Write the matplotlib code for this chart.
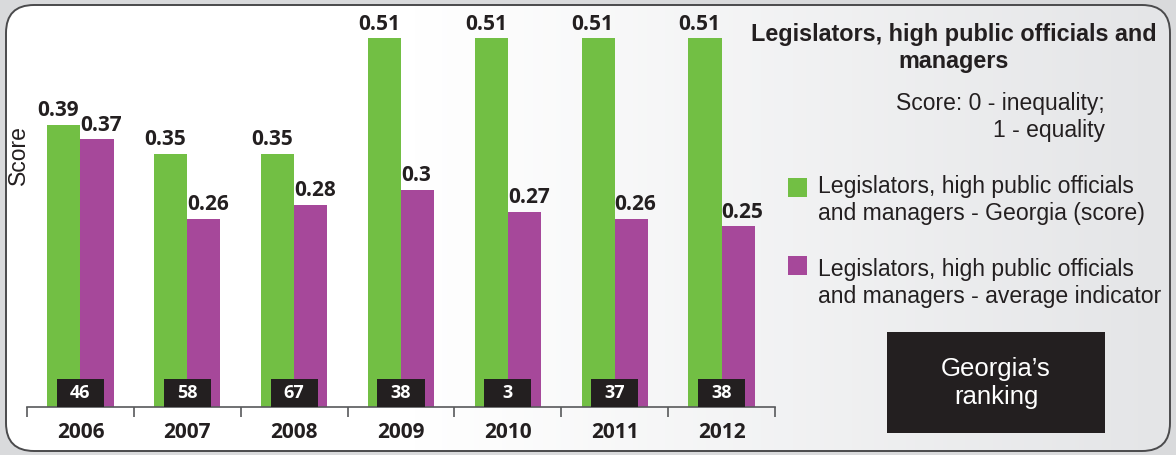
import matplotlib.pyplot as plt
import numpy as np
from matplotlib.patches import FancyBboxPatch, Rectangle
from matplotlib.colors import LinearSegmentedColormap

# Data
years = ['2006', '2007', '2008', '2009', '2010', '2011', '2012']
georgia_score = [0.39, 0.35, 0.35, 0.51, 0.51, 0.51, 0.51]
average_score = [0.37, 0.26, 0.28, 0.30, 0.27, 0.26, 0.25]
georgia_rank = [46, 58, 67, 38, 3, 37, 38]

GREEN = '#72bf44'
PURPLE = '#a6489a'
DARK = '#231f20'
TEXT = '#231f20'

num_font = 'Open Sans'
txt_font = 'Liberation Sans'

fig = plt.figure(figsize=(11.76, 4.55), dpi=100)
fig.patch.set_facecolor('#d9dadc')

# Rounded background panel with a soft left-to-right gradient
bg = fig.add_axes([0, 0, 1, 1], zorder=0)
bg.set_xlim(0, 1176)
bg.set_ylim(455, 0)
bg.axis('off')
panel = FancyBboxPatch((6, 5), 1164, 446, boxstyle='round,pad=0,rounding_size=28',
                       facecolor='none', edgecolor='#4a4a4c', linewidth=1.4, zorder=3)
bg.add_patch(panel)
grad = np.linspace(0, 1, 256).reshape(1, -1)
grad = np.clip((grad - 0.35) / 0.65, 0, 1)
cmap = LinearSegmentedColormap.from_list('bg', ['#ffffff', '#e4e5e7'])
im = bg.imshow(grad, extent=(6, 1170, 451, 5), cmap=cmap, aspect='auto', zorder=1)
im.set_clip_path(panel)

# Main bar chart
ax = fig.add_axes([27 / 1176, (455 - 407) / 455, 748 / 1176, 397 / 455], zorder=2)
ax.patch.set_alpha(0)
x = np.arange(len(years))
w = 0.31
ax.bar(x - w / 2, georgia_score, w, color=GREEN, zorder=2)
ax.bar(x + w / 2, average_score, w, color=PURPLE, zorder=2)

for xi, g, a, r in zip(x, georgia_score, average_score, georgia_rank):
    ax.text(xi - 0.01, g + 0.005, f'{g:g}', ha='right', va='bottom', fontsize=15,
            fontweight='bold', family=num_font, color=TEXT)
    ax.text(xi + 0.0, a + 0.005, f'{a:g}', ha='left', va='bottom', fontsize=15,
            fontweight='bold', family=num_font, color=TEXT)
    ax.add_patch(Rectangle((xi - 0.22, 0), 0.44, 0.039, facecolor=DARK, zorder=3))
    ax.text(xi, 0.0195, str(r), ha='center', va='center', fontsize=13,
            fontweight='bold', family=num_font, color='white', zorder=4)

ax.set_xlim(-0.5, len(years) - 0.5)
ax.set_ylim(0, 397 / 723)
ax.set_xticks(np.arange(-0.5, len(years)), minor=False)
ax.set_xticklabels([])
ax.set_xticks(x, minor=True)
ax.set_xticklabels(years, minor=True, fontsize=15, fontweight='bold', family=num_font, color=TEXT)
ax.tick_params(axis='x', which='major', length=7, width=1.2, color='#58595b', direction='out')
ax.tick_params(axis='x', which='minor', length=0, pad=11)
ax.set_yticks([])
for s in ['top', 'right', 'left']:
    ax.spines[s].set_visible(False)
ax.spines['bottom'].set_color('#58595b')
ax.spines['bottom'].set_linewidth(1.2)

fig.text(18 / 1176, 1 - 155 / 455, 'Score', rotation=90, ha='center', va='center',
         fontsize=16.5, family=txt_font, color=TEXT)

# Side legend and notes
fig.text(954 / 1176, 1 - 48 / 455, 'Legislators, high public officials and\nmanagers',
         ha='center', va='center', fontsize=16.8, fontweight='bold', family=txt_font,
         color=TEXT, linespacing=1.2)
fig.text(1105 / 1176, 1 - 117 / 455, 'Score: 0 - inequality;\n1 - equality',
         ha='right', va='center', fontsize=16.5, family=txt_font, color=TEXT, linespacing=1.2)

bg.add_patch(Rectangle((788, 178), 19, 19, facecolor=GREEN, zorder=4))
bg.text(818, 200, 'Legislators, high public officials\nand managers - Georgia (score)',
        ha='left', va='center', fontsize=16.6, family=txt_font, color=TEXT, linespacing=1.2, zorder=4)
bg.add_patch(Rectangle((788, 256), 19, 19, facecolor=PURPLE, zorder=4))
bg.text(818, 283, 'Legislators, high public officials\nand managers - average indicator',
        ha='left', va='center', fontsize=16.6, family=txt_font, color=TEXT, linespacing=1.2, zorder=4)

bg.add_patch(Rectangle((887, 332), 218, 101, facecolor=DARK, zorder=4))
bg.text(996, 383, 'Georgia\u2019s\nranking', ha='center', va='center', fontsize=18.5,
        family=txt_font, color='white', linespacing=1.2, zorder=5)

fig.savefig('out.png', dpi=100, facecolor=fig.get_facecolor())
